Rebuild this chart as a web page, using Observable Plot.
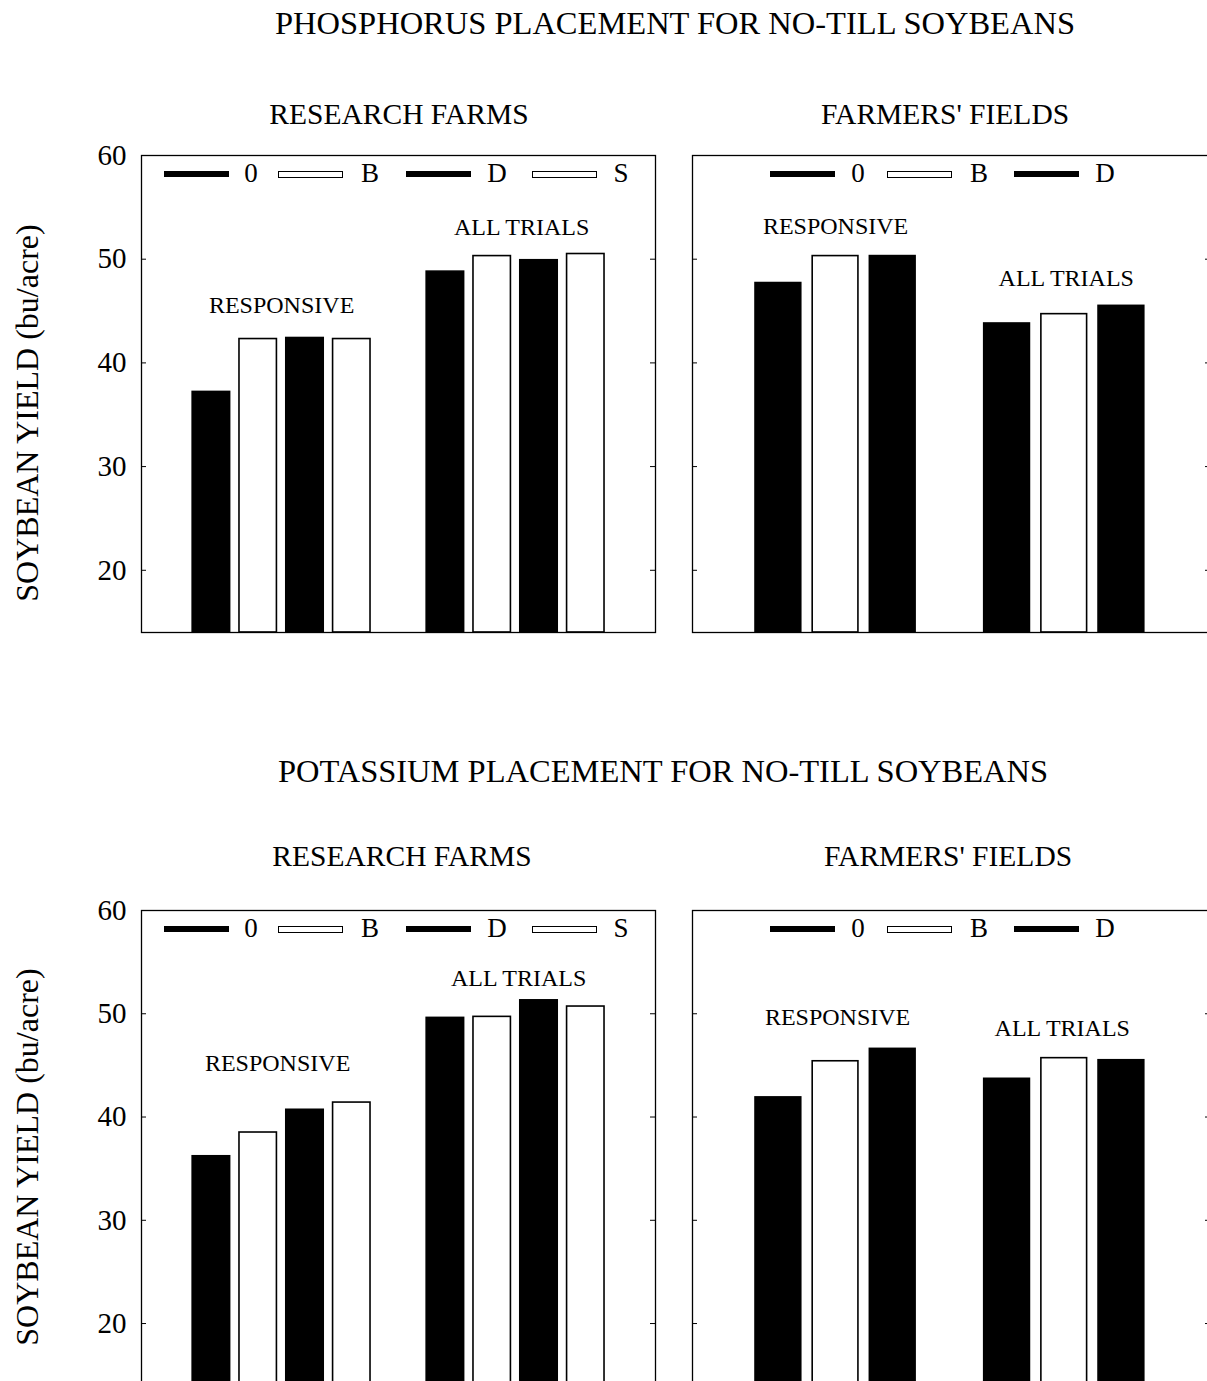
<!DOCTYPE html>
<html><head><meta charset="utf-8">
<script src="https://cdn.jsdelivr.net/npm/d3@7"></script>
<script src="https://cdn.jsdelivr.net/npm/@observablehq/plot@0.6"></script>
<style>
html,body{margin:0;padding:0;background:#fff;}
#root{position:relative;width:1207px;height:1381px;overflow:hidden;font-family:'Liberation Serif','Times New Roman',serif;color:#000;background:#fff;}
.t{position:absolute;white-space:nowrap;line-height:1;transform:translateX(-50%);}
.yl{position:absolute;white-space:nowrap;line-height:1;transform:translate(-50%,-50%) rotate(-90deg);}
.sw{position:absolute;height:6px;background:#000;}
.sw.open{background:#fff;border:1.5px solid #000;box-sizing:border-box;height:7px;}
.pl{position:absolute;}
.pl svg{max-width:none !important;}
</style></head><body><div id="root"></div>
<script>
// ---------- data ----------
const groups = ["RESPONSIVE", "ALL TRIALS"];
const researchTreatments = ["0", "B", "D", "S"];
const farmerTreatments = ["0", "B", "D"];
const yTicks = [20, 30, 40, 50, 60];
const yDomain = [14, 60];

// Phosphorus placement (bu/acre)
const pResearchResponsive = [37.2, 42.3, 42.4, 42.3];
const pResearchAll        = [48.8, 50.3, 49.9, 50.5];
const pFarmersResponsive  = [47.7, 50.3, 50.3];
const pFarmersAll         = [43.8, 44.7, 45.5];
// Potassium placement (bu/acre)
const kResearchResponsive = [36.2, 38.5, 40.7, 41.4];
const kResearchAll        = [49.6, 49.7, 51.3, 50.7];
const kFarmersResponsive  = [41.9, 45.4, 46.6];
const kFarmersAll         = [43.7, 45.7, 45.5];

const titles = ["PHOSPHORUS PLACEMENT FOR NO-TILL SOYBEANS", "POTASSIUM PLACEMENT FOR NO-TILL SOYBEANS"];
const panelTitles = ["RESEARCH FARMS", "FARMERS' FIELDS"];
const yLabel = "SOYBEAN YIELD (bu/acre)";

// ---------- layout (styling only) ----------
const root = document.getElementById("root");
const FONT = "'Liberation Serif','Times New Roman',serif";

function addText(txt, cx, cy, fs) {
  const d = document.createElement("div");
  d.className = "t";
  d.textContent = txt;
  d.style.left = cx + "px";
  d.style.top = (cy - 0.51 * fs) + "px";
  d.style.fontSize = fs + "px";
  root.appendChild(d);
}
function addYLabel(cx, cy, fs) {
  const d = document.createElement("div");
  d.className = "yl";
  d.textContent = yLabel;
  d.style.left = cx + "px";
  d.style.top = cy + "px";
  d.style.fontSize = fs + "px";
  root.appendChild(d);
}
function addLegend(frameLeft, cy, treatments, swOff, lbOff) {
  treatments.forEach((t, i) => {
    const s = document.createElement("div");
    const open = (i % 2 === 1);
    s.className = "sw" + (open ? " open" : "");
    s.style.left = (frameLeft + swOff[i]) + "px";
    s.style.width = "65px";
    s.style.top = (cy - (open ? 3.5 : 3)) + "px";
    root.appendChild(s);
    addText(t, frameLeft + lbOff[i], cy, 27);
  });
}

function panel(opts) {
  const {left, frameTop, frameH, width, marginLeft, marginRight, treatments, values,
         showAxis, insetLeft, insetRight, labelY, labelDx} = opts;
  const marginTop = 15, marginBottom = 5;
  const keys = [];
  groups.forEach((g, i) => { if (i > 0) keys.push("gap"); treatments.forEach(t => keys.push(g + "|" + t)); });
  const rows = [];
  groups.forEach((g, i) => treatments.forEach((t, j) => rows.push({key: g + "|" + t, group: g, treatment: t, value: values[i][j]})));
  const innerW = width - marginLeft - marginRight;
  const step = (innerW - insetLeft - insetRight) / keys.length;
  const even = treatments.length % 2 === 0;
  const mid = even ? treatments[treatments.length / 2 - 1] : treatments[(treatments.length - 1) / 2];
  const ann = groups.map((g, i) => ({key: g + "|" + mid, label: g, y: labelY[i], dx: (even ? step / 2 : 0) + labelDx[i]}));
  const inner = yTicks.filter(t => t < yDomain[1]);
  const plot = Plot.plot({
    width, height: marginTop + frameH + marginBottom,
    marginLeft, marginRight, marginTop, marginBottom,
    style: {fontFamily: FONT, fontSize: "29px", background: "transparent", overflow: "visible", color: "black", maxWidth: "none"},
    x: {type: "band", domain: keys, paddingInner: 0.2, paddingOuter: 0.1, insetLeft, insetRight, axis: null, round: false},
    y: {domain: yDomain, axis: showAxis ? "left" : null, ticks: yTicks, tickSize: 0, tickPadding: 15, label: null},
    color: {domain: researchTreatments, range: ["black", "white", "black", "white"]},
    marks: [
      Plot.barY(rows, {x: "key", y1: yDomain[0], y2: "value", fill: "treatment", stroke: "black", strokeWidth: 1.6}),
      Plot.tickY(inner, {y: d => d, insetRight: innerW - 5, stroke: "black", strokeWidth: 1}),
      Plot.tickY(inner, {y: d => d, insetLeft: innerW - 5, stroke: "black", strokeWidth: 1}),
      ...ann.map(a => Plot.text([a], {x: "key", y: "y", text: "label", dx: a.dx, fontSize: 24})),
      Plot.frame({stroke: "black", strokeWidth: 1.3})
    ]
  });
  const wrap = document.createElement("div");
  wrap.className = "pl";
  wrap.style.left = left + "px";
  wrap.style.top = (frameTop - marginTop) + "px";
  wrap.style.width = width + "px";
  wrap.appendChild(plot);
  root.appendChild(wrap);
}

const sections = [
  {title: titles[0], titleCx: 675, titleCy: 24, subCy: 115, subCx: [399, 945], frameTop: 155, frameH: 477, yLabelCy: 413,
   research: [pResearchResponsive, pResearchAll], farmers: [pFarmersResponsive, pFarmersAll],
   labR: [45.6, 53.1], labF: [53.2, 48.2], dxR: [0, 6], dxF: [0, 2]},
  {title: titles[1], titleCx: 663, titleCy: 772, subCy: 857, subCx: [402, 948], frameTop: 910, frameH: 475, yLabelCy: 1157,
   research: [kResearchResponsive, kResearchAll], farmers: [kFarmersResponsive, kFarmersAll],
   labR: [45.2, 53.4], labF: [49.7, 48.6], dxR: [-4, 3], dxF: [2, -2]}
];

sections.forEach(s => {
  addText(s.title, s.titleCx, s.titleCy, 32.5);
  addText(panelTitles[0], s.subCx[0], s.subCy, 29.5);
  addText(panelTitles[1], s.subCx[1], s.subCy, 29.5);
  addYLabel(27, s.yLabelCy, 32);
  panel({left: 60, frameTop: s.frameTop, frameH: s.frameH, width: 597, marginLeft: 81, marginRight: 2,
         treatments: researchTreatments, values: s.research, showAxis: true,
         insetLeft: 46.5, insetRight: 46.3, labelY: s.labR, labelDx: s.dxR});
  panel({left: 690, frameTop: s.frameTop, frameH: s.frameH, width: 522, marginLeft: 2, marginRight: 2,
         treatments: farmerTreatments, values: s.farmers, showAxis: false,
         insetLeft: 57.3, insetRight: 60.5, labelY: s.labF, labelDx: s.dxF});
  addLegend(141, s.frameTop + 19, researchTreatments, [23, 137, 265, 391], [110, 229, 356, 480]);
  addLegend(692, s.frameTop + 19, farmerTreatments, [78, 195, 322], [166, 287, 413]);
});
</script></body></html>
